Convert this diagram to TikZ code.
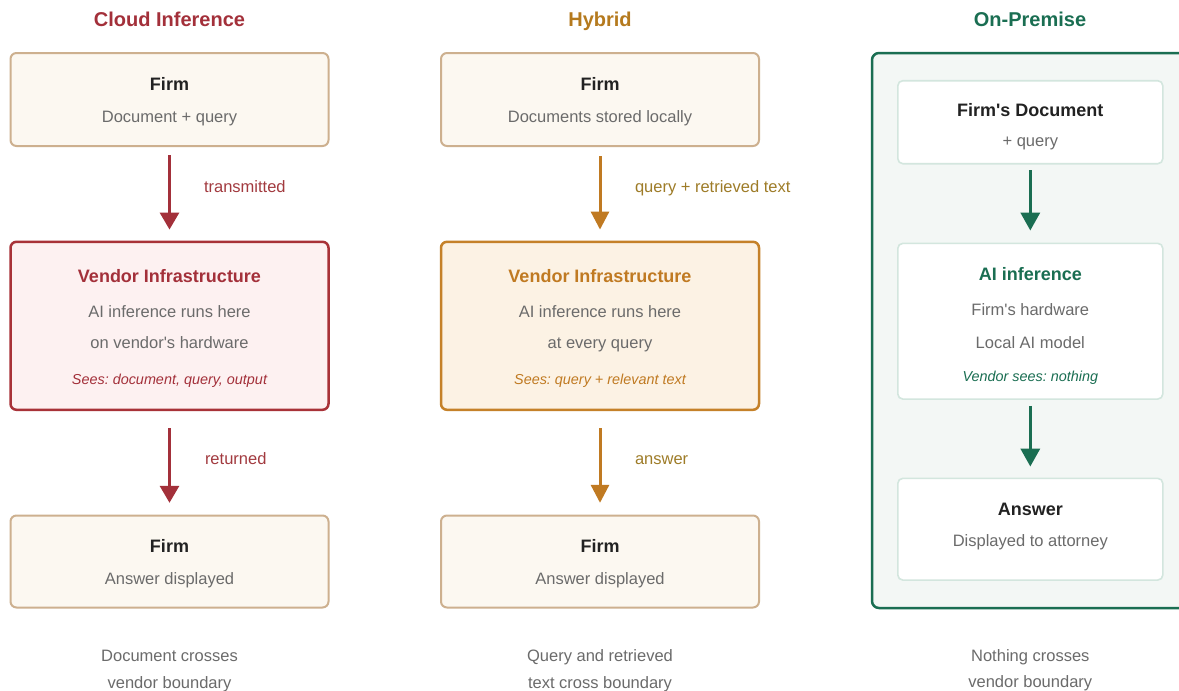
\documentclass[tikz,border=0pt]{standalone}
\usepackage{fontspec}
\setmainfont{Liberation Sans}
\usetikzlibrary{arrows.meta}
\definecolor{redc}{HTML}{A3303A}
\definecolor{redlbl}{HTML}{A23A3F}
\definecolor{redfill}{HTML}{FDF1F1}
\definecolor{redborder}{HTML}{A83238}
\definecolor{ambc}{HTML}{C07A22}
\definecolor{ambtitle}{HTML}{B57A1E}
\definecolor{amblbl}{HTML}{9E7C28}
\definecolor{ambfill}{HTML}{FCF2E4}
\definecolor{ambborder}{HTML}{C58129}
\definecolor{grnc}{HTML}{1A6E52}
\definecolor{grnfill}{HTML}{F3F7F5}
\definecolor{grninner}{HTML}{D3E6DE}
\definecolor{tanborder}{HTML}{CDB08F}
\definecolor{tanfill}{HTML}{FCF8F1}
\definecolor{bodygray}{HTML}{6B6B6B}
\definecolor{darktxt}{HTML}{222222}
\newcommand{\apos}{\textquotesingle}
\tikzset{
  txtbase/.style={anchor=base, inner sep=0pt, outer sep=0pt},
  coltitle/.style={txtbase, font=\fontsize{20}{24}\selectfont\bfseries},
  boxtitle/.style={txtbase, font=\fontsize{18}{22}\selectfont\bfseries, text=darktxt},
  bodytxt/.style={txtbase, font=\fontsize{16.5}{20}\selectfont, text=bodygray},
  seestxt/.style={txtbase, font=\fontsize{14.4}{18}\selectfont\itshape},
  lbltxt/.style={anchor=base west, inner sep=0pt, outer sep=0pt, font=\fontsize{16.5}{20}\selectfont},
  firmbox/.style={draw=tanborder, fill=tanfill, line width=2pt, rounded corners=6pt, inner sep=0pt, minimum width=318pt},
  vendR/.style={draw=redborder, fill=redfill, line width=2.5pt, rounded corners=6pt, inner sep=0pt, minimum width=318pt},
  vendA/.style={draw=ambborder, fill=ambfill, line width=2.5pt, rounded corners=6pt, inner sep=0pt, minimum width=318pt},
  outerG/.style={draw=grnc, fill=grnfill, line width=2.5pt, rounded corners=7pt, inner sep=0pt},
  innerG/.style={draw=grninner, fill=white, line width=1.6pt, rounded corners=5pt, inner sep=0pt, minimum width=265pt},
  arrR/.style={draw=redc, line width=3pt, -{Triangle[width=19pt,length=17pt]}},
  arrA/.style={draw=ambc, line width=3pt, -{Triangle[width=18pt,length=18pt]}},
  arrG/.style={draw=grnc, line width=3.5pt, -{Triangle[width=19pt,length=18pt]}},
}
\begin{document}
\frenchspacing
\begin{tikzpicture}[x=1pt, y=-1pt]
\useasboundingbox (0,0) rectangle (1179,691);
\fill[white] (0,0) rectangle (1179,691);

% ---------- Column 1: Cloud Inference ----------
\node[coltitle, text=redc] (t1) at (169.5,26.2) {Cloud Inference};
\node[firmbox, minimum height=93pt] (c1a) at (169.5,99.5) {};
\node[boxtitle] (c1at) at (169.5,90.4) {Firm};
\node[bodytxt] (c1ab) at (169.5,122) {Document + query};

\node[vendR, minimum height=168pt] (c1b) at (169.5,325.8) {};
\node[boxtitle, text=redc] (c1bt) at (169.5,282.5) {Vendor Infrastructure};
\node[bodytxt] (c1b1) at (169.5,317.5) {AI inference runs here};
\node[bodytxt] (c1b2) at (169.5,348.4) {on vendor\apos s hardware};
\node[seestxt, text=redc] (c1b3) at (169.5,384) {Sees: document, query, output};

\node[firmbox, minimum height=92pt] (c1c) at (169.5,561.5) {};
\node[boxtitle] (c1ct) at (169.5,552.4) {Firm};
\node[bodytxt] (c1cb) at (169.5,584) {Answer displayed};

\draw[arrR, shorten <=8pt, shorten >=11pt] (c1a) -- (c1b);
\draw[arrR, shorten <=17pt, shorten >=11.7pt] (c1b) -- (c1c);
\node[lbltxt, text=redlbl] (l1a) at (204,192) {transmitted};
\node[lbltxt, text=redlbl] (l1b) at (205,464) {returned};

\node[bodytxt] (f1a) at (169.5,661) {Document crosses};
\node[bodytxt] (f1b) at (169.5,688) {vendor boundary};

% ---------- Column 2: Hybrid ----------
\node[coltitle, text=ambtitle] (t2) at (600,26.2) {Hybrid};
\node[firmbox, minimum height=93pt] (c2a) at (600,99.5) {};
\node[boxtitle] (c2at) at (600,90.4) {Firm};
\node[bodytxt] (c2ab) at (600,122) {Documents stored locally};

\node[vendA, minimum height=168pt] (c2b) at (600,325.8) {};
\node[boxtitle, text=ambc] (c2bt) at (600,282.5) {Vendor Infrastructure};
\node[bodytxt] (c2b1) at (600,317.5) {AI inference runs here};
\node[bodytxt] (c2b2) at (600,348.4) {at every query};
\node[seestxt, text=ambc] (c2b3) at (600,384) {Sees: query + relevant text};

\node[firmbox, minimum height=92pt] (c2c) at (600,561.5) {};
\node[boxtitle] (c2ct) at (600,552.4) {Firm};
\node[bodytxt] (c2cb) at (600,584) {Answer displayed};

\draw[arrA, shorten <=9pt, shorten >=11pt] (c2a) -- (c2b);
\draw[arrA, shorten <=17pt, shorten >=11.7pt] (c2b) -- (c2c);
\node[lbltxt, text=amblbl] (l2a) at (635,192) {query + retrieved text};
\node[lbltxt, text=amblbl] (l2b) at (635,464) {answer};

\node[bodytxt] (f2a) at (600,661) {Query and retrieved};
\node[bodytxt] (f2b) at (600,688) {text cross boundary};

% ---------- Column 3: On-Premise ----------
\node[coltitle, text=grnc] (t3) at (1030,26.2) {On-Premise};
\begin{scope}
\clip (0,0) rectangle (1179,691);
\node[outerG, minimum width=325pt, minimum height=555pt] (c3o) at (1034.5,330.5) {};
\end{scope}

\node[innerG, minimum height=83pt] (c3a) at (1030.3,122.2) {};
\node[boxtitle] (c3at) at (1030.3,116.7) {Firm\apos s Document};
\node[bodytxt] (c3ab) at (1030.3,146) {+ query};

\node[innerG, minimum height=155.7pt] (c3b) at (1030.3,321.2) {};
\node[boxtitle, text=grnc] (c3bt) at (1030.3,280) {AI inference};
\node[bodytxt] (c3b1) at (1030.3,315) {Firm\apos s hardware};
\node[bodytxt] (c3b2) at (1030.3,348.3) {Local AI model};
\node[seestxt, text=grnc] (c3b3) at (1030.3,381.7) {Vendor sees: nothing};

\node[innerG, minimum height=101.7pt] (c3c) at (1030.3,529.2) {};
\node[boxtitle] (c3ct) at (1030.3,515.7) {Answer};
\node[bodytxt] (c3cb) at (1030.3,546.7) {Displayed to attorney};

\draw[arrG, shorten <=5.6pt, shorten >=12pt] (c3a) -- (c3b);
\draw[arrG, shorten <=6pt, shorten >=11pt] (c3b) -- (c3c);

\node[bodytxt] (f3a) at (1030.3,661.7) {Nothing crosses};
\node[bodytxt] (f3b) at (1030.3,687.5) {vendor boundary};
\end{tikzpicture}
\end{document}
